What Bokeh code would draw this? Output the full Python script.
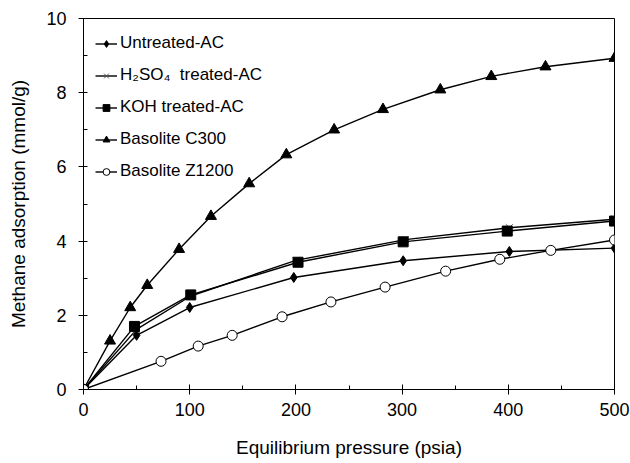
from bokeh.plotting import figure
from bokeh.models import SingleIntervalTicker, Legend, LegendItem, Range1d
from bokeh.embed import file_html
from bokeh.resources import INLINE

# Data
untreated_x = [0, 50, 100, 198, 301, 401, 500]
untreated_y = [0, 1.46, 2.21, 3.02, 3.47, 3.72, 3.81]

h2so4_x = [0, 50, 101, 200, 303, 401, 500]
h2so4_y = [0, 1.62, 2.52, 3.48, 4.04, 4.36, 4.59]

koh_x = [0, 48, 101, 202, 301, 399, 500]
koh_y = [0, 1.70, 2.55, 3.43, 3.98, 4.27, 4.54]

c300_x = [0, 25, 44, 60, 90, 120, 156, 191, 236, 282, 336, 384, 435, 500]
c300_y = [0, 1.31, 2.21, 2.81, 3.78, 4.67, 5.55, 6.33, 7.00, 7.55, 8.08, 8.44, 8.70, 8.93]

z1200_x = [0, 73, 108, 140, 187, 233, 284, 341, 392, 440, 500]
z1200_y = [0, 0.76, 1.17, 1.46, 1.96, 2.36, 2.76, 3.19, 3.51, 3.75, 4.03]

labels = ["Untreated-AC", "H\u2082SO\u2084  treated-AC", "KOH treated-AC",
          "Basolite C300", "Basolite Z1200"]

FONT = "Liberation Sans"

p = figure(width=630, height=463, output_backend="svg", toolbar_location=None,
           x_range=Range1d(0, 500), y_range=Range1d(0, 10),
           min_border_left=83, min_border_right=16, min_border_top=18,
           min_border_bottom=74)
p.xgrid.visible = False
p.ygrid.visible = False
p.outline_line_color = "black"
p.outline_line_width = 1
p.background_fill_color = "white"
p.border_fill_color = "white"

lw = 1.4
r1l = p.line(untreated_x, untreated_y, line_color="black", line_width=lw)
r1m = p.scatter(untreated_x, untreated_y, marker="diamond", size=10,
                fill_color="black", line_color="black")
r2l = p.line(h2so4_x, h2so4_y, line_color="black", line_width=lw)
r2m = p.scatter(h2so4_x, h2so4_y, marker="x", size=10, line_color="#555555",
                line_width=1)
r3l = p.line(koh_x, koh_y, line_color="black", line_width=lw)
r3m = p.scatter(koh_x, koh_y, marker="square", size=10,
                fill_color="black", line_color="black")
r4l = p.line(c300_x, c300_y, line_color="black", line_width=lw)
r4m = p.scatter(c300_x, c300_y, marker="triangle", size=11,
                fill_color="black", line_color="black")
r5l = p.line(z1200_x, z1200_y, line_color="black", line_width=lw)
r5m = p.scatter(z1200_x, z1200_y, marker="circle", size=10,
                fill_color="white", line_color="black", line_width=1)

legend = Legend(items=[
    LegendItem(label=labels[0], renderers=[r1l, r1m]),
    LegendItem(label=labels[1], renderers=[r2l, r2m]),
    LegendItem(label=labels[2], renderers=[r3l, r3m]),
    LegendItem(label=labels[3], renderers=[r4l, r4m]),
    LegendItem(label=labels[4], renderers=[r5l, r5m]),
], location=(12, 208))
legend.border_line_color = None
legend.background_fill_alpha = 0
legend.padding = 0
legend.margin = 0
legend.spacing = 12
legend.glyph_width = 22
legend.glyph_height = 17
legend.label_height = 17
legend.label_standoff = 3
legend.label_text_font = FONT
legend.label_text_font_size = "17px"
legend.label_text_color = "black"
p.add_layout(legend, "center")

# Axes
p.xaxis.ticker = SingleIntervalTicker(interval=100, num_minor_ticks=2)
p.yaxis.ticker = SingleIntervalTicker(interval=2, num_minor_ticks=2)
for ax in (p.xaxis[0], p.yaxis[0]):
    ax.axis_line_color = "black"
    ax.axis_line_width = 1
    ax.major_tick_line_color = "black"
    ax.minor_tick_line_color = "black"
    ax.major_label_text_font = FONT
    ax.major_label_text_font_size = "18px"
    ax.major_label_text_color = "black"
    ax.axis_label_text_font = FONT
    ax.axis_label_text_font_size = "19px"
    ax.axis_label_text_font_style = "normal"
    ax.axis_label_text_color = "black"
    ax.minor_tick_in = 4
    ax.minor_tick_out = 0

p.xaxis.major_tick_in = 5
p.xaxis.major_tick_out = 5
p.yaxis.major_tick_in = 0
p.yaxis.major_tick_out = 5
p.xaxis.major_label_standoff = 8
p.yaxis.major_label_standoff = 12
p.xaxis.axis_label = "Equilibrium pressure (psia)"
p.yaxis.axis_label = "Methane adsorption (mmol/g)"
p.xaxis.axis_label_standoff = 18
p.yaxis.axis_label_standoff = 14

open("out.html", "w").write(file_html(p, INLINE))
